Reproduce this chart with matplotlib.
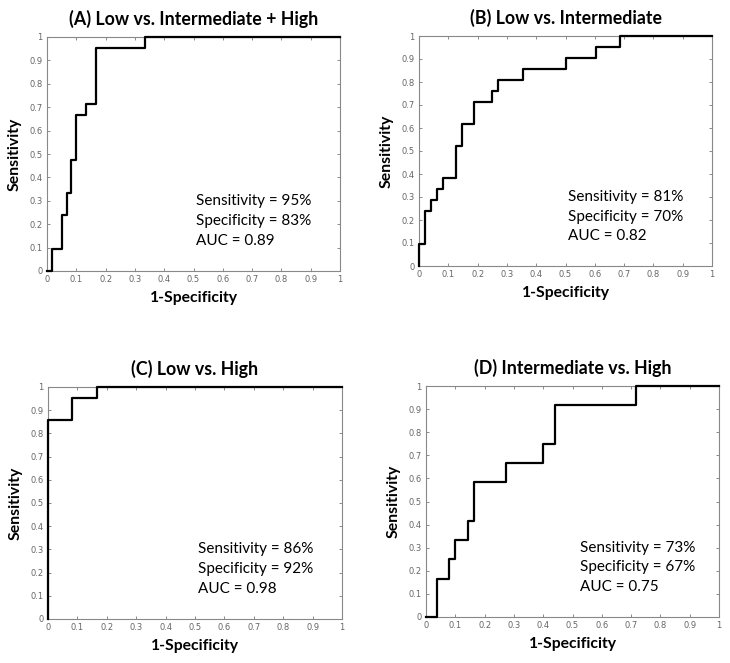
import matplotlib
matplotlib.use('Agg')
import matplotlib.pyplot as plt
import numpy as np

# ─── data (ROC corner points) ────────────────────────────────────────────────

titles = ['(A) Low vs. Intermediate + High', '(B) Low vs. Intermediate',
          '(C) Low vs. High', '(D) Intermediate vs. High']

fpr_a = [0, 0.017, 0.05, 0.067, 0.083, 0.1, 0.133, 0.167, 0.333, 1]
tpr_a = [0, 2/21, 5/21, 7/21, 10/21, 14/21, 15/21, 20/21, 1, 1]

fpr_b = [0, 0, 0.021, 0.042, 0.0625, 0.083, 0.125, 0.146, 0.1875, 0.25, 0.271,
         0.354, 0.5, 0.604, 0.6875, 1]
tpr_b = [0, 2/21, 5/21, 6/21, 7/21, 8/21, 11/21, 13/21, 15/21, 16/21, 17/21,
         18/21, 19/21, 20/21, 1, 1]

fpr_c = [0, 0, 0.083, 0.167, 1]
tpr_c = [0, 18/21, 20/21, 1, 1]

fpr_d = [0, 0.038, 0.08, 0.1, 0.144, 0.164, 0.272, 0.399, 0.44, 0.716, 1]
tpr_d = [0, 2/12, 3/12, 4/12, 5/12, 7/12, 8/12, 9/12, 11/12, 1, 1]

sens = [95, 81, 86, 73]
spec = [83, 70, 92, 67]
auc = [0.89, 0.82, 0.98, 0.75]

ticks = np.round(np.arange(0, 1.01, 0.1), 1)
tick_labels = ['0', '0.1', '0.2', '0.3', '0.4', '0.5', '0.6', '0.7', '0.8', '0.9', '1']

# ─── figure ──────────────────────────────────────────────────────────────────

W, H = 730, 663
fig = plt.figure(figsize=(W / 100, H / 100), dpi=100)

# axes boxes in pixels: left, right, top, bottom
boxes = [(47, 340, 37, 271), (419, 712, 36, 266),
         (48, 342, 387, 619), (426, 719, 386, 617)]
curves = [(fpr_a, tpr_a), (fpr_b, tpr_b), (fpr_c, tpr_c), (fpr_d, tpr_d)]
text_x = [0.51, 0.51, 0.51, 0.525]

for i, (l, r, t, b) in enumerate(boxes):
    ax = fig.add_axes([l / W, 1 - b / H, (r - l) / W, (b - t) / H])
    fpr, tpr = curves[i]
    ax.step(fpr, tpr, where='post', color='black', linewidth=1.6, clip_on=False, zorder=3)
    ax.set_xlim(0, 1)
    ax.set_ylim(0, 1)
    ax.set_xticks(ticks)
    ax.set_yticks(ticks)
    ax.set_xticklabels(tick_labels)
    ax.set_yticklabels(tick_labels)
    ax.tick_params(direction='in', top=True, right=True, length=2.5, width=0.6,
                   colors='#777777', labelsize=6, labelcolor='#666666', pad=3)
    for s in ax.spines.values():
        s.set_color('#888888')
        s.set_linewidth(0.8)
    ax.set_title(titles[i], fontsize=12.8, fontweight='bold', family='Lato', pad=9)
    ax.set_xlabel('1-Specificity', fontsize=11.3, fontweight='bold', family='Lato', labelpad=5)
    ax.set_ylabel('Sensitivity', fontsize=11.3, fontweight='bold', family='Lato', labelpad=6)
    ax.text(text_x[i], 0.30, f'Sensitivity = {sens[i]}%', fontsize=11, family='Lato',
            va='center', transform=ax.transAxes)
    ax.text(text_x[i], 0.215, f'Specificity = {spec[i]}%', fontsize=11, family='Lato',
            va='center', transform=ax.transAxes)
    ax.text(text_x[i], 0.13, f'AUC = {auc[i]:.2f}', fontsize=11, family='Lato',
            va='center', transform=ax.transAxes)

fig.savefig('out.png', dpi=100)
